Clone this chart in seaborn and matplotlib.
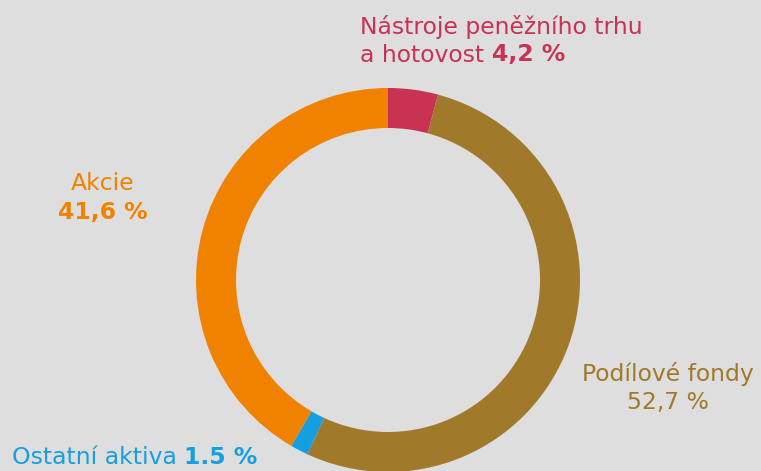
import matplotlib
matplotlib.use("Agg")
import matplotlib.pyplot as plt
import seaborn as sns

# data
labels = ["Nástroje peněžního trhu a hotovost", "Podílové fondy", "Ostatní aktiva", "Akcie"]
shares = [4.2, 52.7, 1.5, 41.6]
colors = ["#c93253", "#a07a2a", "#14a0e0", "#f08200"]
bg = "#dedede"

sns.set_theme(style="white")
plt.rcParams["font.family"] = ["DejaVu Sans"]

fig = plt.figure(figsize=(7.61, 4.71), dpi=100, facecolor=bg)
ax = fig.add_axes([0, 0, 1, 1])
ax.set_facecolor(bg)

# pie is drawn in pixel-like coords; y axis inverted so flip direction
wedges, _ = ax.pie(shares, colors=colors, startangle=-90, counterclock=True,
                   radius=192, center=(388, 280), frame=True,
                   wedgeprops=dict(width=40, linewidth=0))
ax.set_xlim(0, 761)
ax.set_ylim(471, 0)
ax.set_aspect("equal")
ax.axis("off")

fs = 16.9
# top label
ax.text(360, 27, "Nástroje peněžního trhu", color=colors[0], fontsize=fs, va="center", ha="left")
t = ax.text(360, 55, "a hotovost ", color=colors[0], fontsize=fs, va="center", ha="left")
ax.annotate(f"{shares[0]:.1f} %".replace(".", ","), xy=(1, 0), xycoords=t, va="bottom", ha="left",
            color=colors[0], fontsize=fs, fontweight="bold")

# right label
ax.text(668, 374, "Podílové fondy", color=colors[1], fontsize=fs, va="center", ha="center")
ax.text(668, 402, f"{shares[1]:.1f} %".replace(".", ","), color=colors[1], fontsize=fs,
        va="center", ha="center")

# left label
ax.text(103, 184, "Akcie", color=colors[3], fontsize=fs, va="center", ha="center")
ax.text(103, 212, f"{shares[3]:.1f} %".replace(".", ","), color=colors[3], fontsize=fs,
        va="center", ha="center", fontweight="bold")

# bottom label
t2 = ax.text(12, 457, "Ostatní aktiva ", color=colors[2], fontsize=fs, va="center", ha="left")
ax.annotate(f"{shares[2]:.1f} %", xy=(1, 0), xycoords=t2, va="bottom", ha="left",
            color=colors[2], fontsize=fs, fontweight="bold")

fig.savefig("out.png", dpi=100, facecolor=bg)
